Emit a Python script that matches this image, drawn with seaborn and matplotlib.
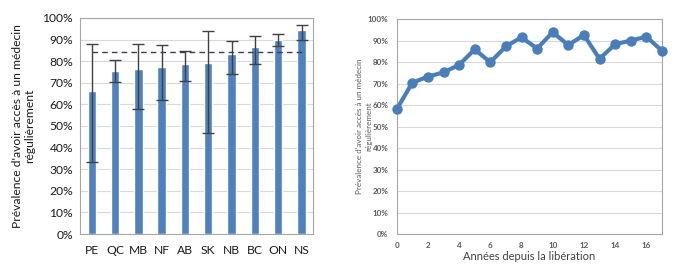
import matplotlib
matplotlib.use("Agg")
import matplotlib.pyplot as plt
import seaborn as sns
import numpy as np
import pandas as pd
from matplotlib.ticker import PercentFormatter, FixedLocator

provinces = ["PE", "QC", "MB", "NF", "AB", "SK", "NB", "BC", "ON", "NS"]
prevalence = [66.0, 75.6, 76.2, 77.2, 78.5, 79.0, 83.2, 86.4, 90.0, 94.4]
ci_low = [33.3, 70.4, 57.9, 62.2, 70.8, 46.8, 74.1, 78.7, 87.0, 89.7]
ci_high = [88.0, 80.6, 88.0, 87.5, 84.6, 94.0, 89.4, 91.7, 92.6, 96.8]
overall = 84.3

years = list(range(18))
prev_years = [58.1, 70.5, 73.3, 75.3, 78.8, 86.0, 80.0, 87.4, 91.6, 86.4,
              94.0, 88.0, 92.7, 81.6, 88.4, 90.1, 91.9, 85.4]

sns.set_theme(style="white")
plt.rcParams['font.family'] = ['Lato', 'DejaVu Sans']

fig = plt.figure(figsize=(6.96, 2.76), dpi=100)
ax1 = fig.add_axes([0.115, 0.152, 0.335, 0.783])
ax2 = fig.add_axes([0.570, 0.152, 0.381, 0.778])

blue = "#4F81BD"
grid_c = "#D9D9D9"
spine_c = "#A6A6A6"

# Left panel
df1 = pd.DataFrame({"prov": provinces, "val": prevalence})
sns.barplot(data=df1, x="prov", y="val", color=blue, width=0.36,
            saturation=1, ax=ax1, zorder=2)
xs = np.arange(len(provinces))
yerr = [np.array(prevalence) - np.array(ci_low), np.array(ci_high) - np.array(prevalence)]
ax1.errorbar(xs, prevalence, yerr=yerr, fmt="none", ecolor="#404040",
             elinewidth=1.0, capsize=4, capthick=1.0, zorder=3)
ax1.plot([xs[0], xs[-1]], [overall, overall], linestyle=(0, (4, 3)),
         color="#3B3B5B", linewidth=1.0, zorder=4)
ax1.set_xlim(-0.5, len(provinces) - 0.5)
ax1.set_ylim(0, 100)
ax1.yaxis.set_major_locator(FixedLocator(np.arange(0, 101, 10)))
ax1.yaxis.set_major_formatter(PercentFormatter(decimals=0))
ax1.grid(axis="y", color=grid_c, linewidth=0.8, zorder=0)
ax1.set_axisbelow(True)
for s in ax1.spines.values():
    s.set_color(spine_c)
    s.set_linewidth(0.8)
ax1.tick_params(axis="both", length=0, labelsize=8.7, colors="#1a1a1a")
ax1.tick_params(axis="x", pad=8)
ax1.tick_params(axis="y", pad=5)
ax1.set_xlabel("")
ax1.set_ylabel("Prévalence d'avoir accès à un médecin\nrégulièrement",
               fontsize=8.7, color="#1a1a1a", linespacing=1.15, labelpad=5)

# Right panel
df2 = pd.DataFrame({"year": years, "val": prev_years})
sns.lineplot(data=df2, x="year", y="val", color="#4A7EBB", linewidth=3.0,
             marker="o", markersize=7.5, markeredgewidth=0, ax=ax2, zorder=3,
             clip_on=False)
ax2.set_xlim(0, 17)
ax2.set_ylim(0, 100)
ax2.xaxis.set_major_locator(FixedLocator(np.arange(0, 17, 2)))
ax2.yaxis.set_major_locator(FixedLocator(np.arange(0, 101, 10)))
ax2.yaxis.set_major_formatter(PercentFormatter(decimals=0))
ax2.grid(axis="y", color=grid_c, linewidth=0.8, zorder=0)
ax2.set_axisbelow(True)
for s in ax2.spines.values():
    s.set_color(spine_c)
    s.set_linewidth(0.8)
ax2.tick_params(axis="both", length=0, labelsize=5.8, colors="#595959")
ax2.tick_params(axis="y", pad=6)
ax2.tick_params(axis="x", pad=6)
for lab in ax2.get_xticklabels() + ax2.get_yticklabels():
    lab.set_fontweight("bold")
ax2.set_xlabel("Années depuis la libération", fontsize=8, color="#404040", labelpad=1)
ax2.set_ylabel("Prévalence d'avoir accès à un médecin\nrégulièrement",
               fontsize=5.8, color="#595959", linespacing=1.4)
ax2.yaxis.set_label_coords(-0.092, 0.5)

fig.savefig("out.png", dpi=100)
